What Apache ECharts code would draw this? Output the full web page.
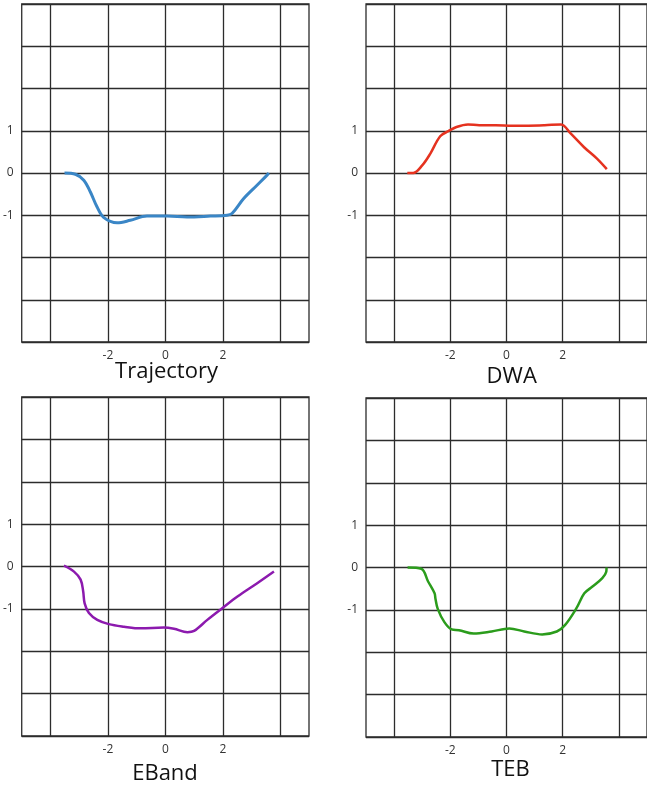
<!DOCTYPE html>
<html>
<head>
<meta charset="utf-8">
<script src="https://cdn.jsdelivr.net/npm/echarts@6/dist/echarts.min.js"></script>
<style>
  html, body { margin: 0; padding: 0; background: #fff; }
  #chart { width: 647px; height: 789px; }
</style>
</head>
<body>
<div id="chart"></div>
<script>
// Path samples (x, y in metres) for each planner
const trajX = [-3.51, -3.13, -2.84, -2.61, -2.38, -2.15, -1.68, -1.22, -0.64, 0.06, 0.75, 1.57, 2.15, 2.32, 2.72, 3.19, 3.54, 3.6];
const trajY = [0, -0.03, -0.17, -0.45, -0.8, -1.05, -1.18, -1.12, -1.02, -1.02, -1.04, -1.02, -1.0, -0.96, -0.61, -0.29, -0.05, 0];

const dwaX = [-3.53, -3.32, -3.0, -2.71, -2.36, -2.07, -1.78, -1.37, -0.97, -0.38, 0.2, 0.78, 1.36, 1.94, 2.29, 2.76, 3.22, 3.57];
const dwaY = [0, 0, 0.18, 0.46, 0.87, 0.99, 1.09, 1.15, 1.13, 1.13, 1.12, 1.12, 1.13, 1.15, 0.93, 0.61, 0.34, 0.09];

const ebandX = [-3.53, -3.18, -2.95, -2.86, -2.81, -2.66, -2.37, -1.97, -1.44, -0.86, -0.05, 0.3, 0.77, 1.0, 1.46, 1.99, 2.51, 3.21, 3.78];
const ebandY = [0.02, -0.12, -0.31, -0.59, -0.87, -1.1, -1.26, -1.36, -1.42, -1.46, -1.44, -1.47, -1.55, -1.52, -1.26, -0.98, -0.71, -0.39, -0.12];

const tebX = [-3.52, -3.03, -2.79, -2.56, -2.53, -2.45, -2.21, -1.95, -1.69, -1.17, -0.53, 0.1, 0.63, 1.27, 1.79, 2.08, 2.48, 2.77, 3.06, 3.41, 3.55, 3.56];
const tebY = [0, -0.03, -0.33, -0.61, -0.73, -0.97, -1.29, -1.46, -1.48, -1.56, -1.51, -1.44, -1.51, -1.58, -1.51, -1.36, -0.97, -0.61, -0.45, -0.25, -0.1, 0];

// Axis ticks
const xGridValues = [-4, -2, 0, 2, 4];
const xLabelValues = [-2, 0, 2];
const yLabelValues = [-1, 0, 1];

const panelTitles = ['Trajectory', 'DWA', 'EBand', 'TEB'];
const panelColors = ['#3a86c6', '#e5321f', '#8c1aae', '#2b9c1c'];
const panelX = [trajX, dwaX, ebandX, tebX];
const panelY = [trajY, dwaY, ebandY, tebY];

const grids = [
  { left: 21, top: 4, width: 288, height: 338 },
  { left: 366, top: 4, width: 287, height: 338 },
  { left: 21, top: 397, width: 288, height: 339 },
  { left: 366, top: 398, width: 287, height: 339 }
];
const titlePos = [
  { x: 166.5, y: 372 },
  { x: 511.7, y: 377 },
  { x: 165, y: 774 },
  { x: 510.5, y: 770 }
];

const lineColor = '#2c2c2c';
const fontFamily = '"Open Sans", "Noto Sans", sans-serif';

const option = {
  animation: false,
  backgroundColor: '#ffffff',
  title: panelTitles.map((t, i) => ({
    text: t,
    left: titlePos[i].x,
    top: titlePos[i].y,
    padding: 0,
    textAlign: 'center',
    textVerticalAlign: 'middle',
    textStyle: { fontFamily, fontSize: 22, fontWeight: 'normal', color: '#111' }
  })),
  grid: grids.map(g => Object.assign({
    show: true,
    borderColor: lineColor,
    borderWidth: 1.3,
    backgroundColor: 'transparent',
    containLabel: false
  }, g)),
  xAxis: grids.map((g, i) => ({
    type: 'value',
    gridIndex: i,
    min: -5,
    max: 5,
    interval: 1,
    axisLine: { show: false },
    axisTick: { show: false, customValues: xGridValues },
    splitLine: { show: true, lineStyle: { color: lineColor, width: 1.3 } },
    axisLabel: {
      customValues: xLabelValues,
      margin: 8,
      color: '#333',
      fontFamily,
      fontSize: 12
    }
  })),
  yAxis: grids.map((g, i) => ({
    type: 'value',
    gridIndex: i,
    min: -4,
    max: 4,
    interval: 1,
    axisLine: { show: false },
    axisTick: { show: false },
    splitLine: { show: true, lineStyle: { color: lineColor, width: 1.3 } },
    axisLabel: {
      customValues: yLabelValues,
      margin: 8,
      color: '#333',
      fontFamily,
      fontSize: 12
    }
  })),
  series: panelTitles.map((t, i) => ({
    name: t,
    type: 'line',
    xAxisIndex: i,
    yAxisIndex: i,
    smooth: 0.35,
    showSymbol: false,
    lineStyle: { color: panelColors[i], width: i === 0 ? 3 : 2.5 },
    data: panelX[i].map((x, k) => [x, panelY[i][k]])
  }))
};

const chart = echarts.init(document.getElementById('chart'), null, { renderer: 'canvas' });
chart.setOption(option);
</script>
</body>
</html>
